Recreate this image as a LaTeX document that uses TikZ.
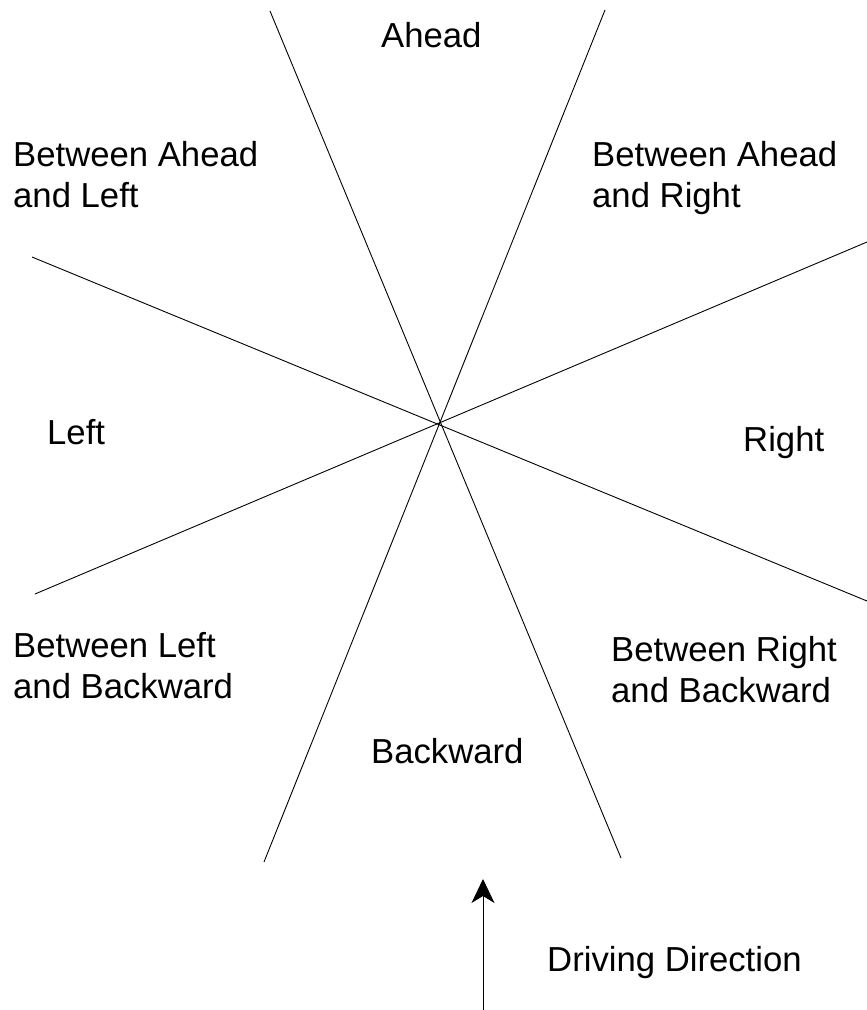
\documentclass[tikz,border=0pt]{standalone}
\usepackage{fontspec}
\setmainfont{Liberation Sans}
\usetikzlibrary{arrows.meta}
\tikzset{
  sector/.style={line width=0.9pt, black},
  lbl/.style={inner sep=0pt, anchor=base west, align=left, font=\fontsize{34.7}{41}\selectfont},
  dir/.style={line width=1pt, -{Stealth[length=24pt,width=23pt,inset=7pt]}}
}
\begin{document}
\begin{tikzpicture}[x=1pt,y=-1pt]
\useasboundingbox (0,0) rectangle (867,1010);
% line end points
\coordinate (a1) at (270,11);  \coordinate (a2) at (621,858);
\coordinate (b1) at (605,10);  \coordinate (b2) at (264,862);
\coordinate (c1) at (32,257);  \coordinate (c2) at (867,601);
\coordinate (d1) at (35,594);  \coordinate (d2) at (867,242);
\draw[sector] (a1) -- (a2);
\draw[sector] (b1) -- (b2);
\draw[sector] (c1) -- (c2);
\draw[sector] (d1) -- (d2);
% labels (base anchor of two-line labels is on the last line)
\node[lbl] (ahead) at (381,47) {Ahead};
\node[lbl] (aleft) at (13,207) {Between Ahead\\and Left};
\node[lbl] (aright) at (592,207) {Between Ahead\\and Right};
\node[lbl] (left) at (47,444) {Left};
\node[lbl] (right) at (743,451) {Right};
\node[lbl] (lback) at (13,698) {Between Left\\and Backward};
\node[lbl] (rback) at (611,702) {Between Right\\and Backward};
\node[lbl] (back) at (371,763) {Backward};
\node[lbl] (drive) at (547,971) {Driving Direction};
% arrow
\coordinate (arrS) at (483,1010);
\coordinate (arrE) at (483,879);
\draw[dir] (arrS) -- (arrE);
\end{tikzpicture}
\end{document}
